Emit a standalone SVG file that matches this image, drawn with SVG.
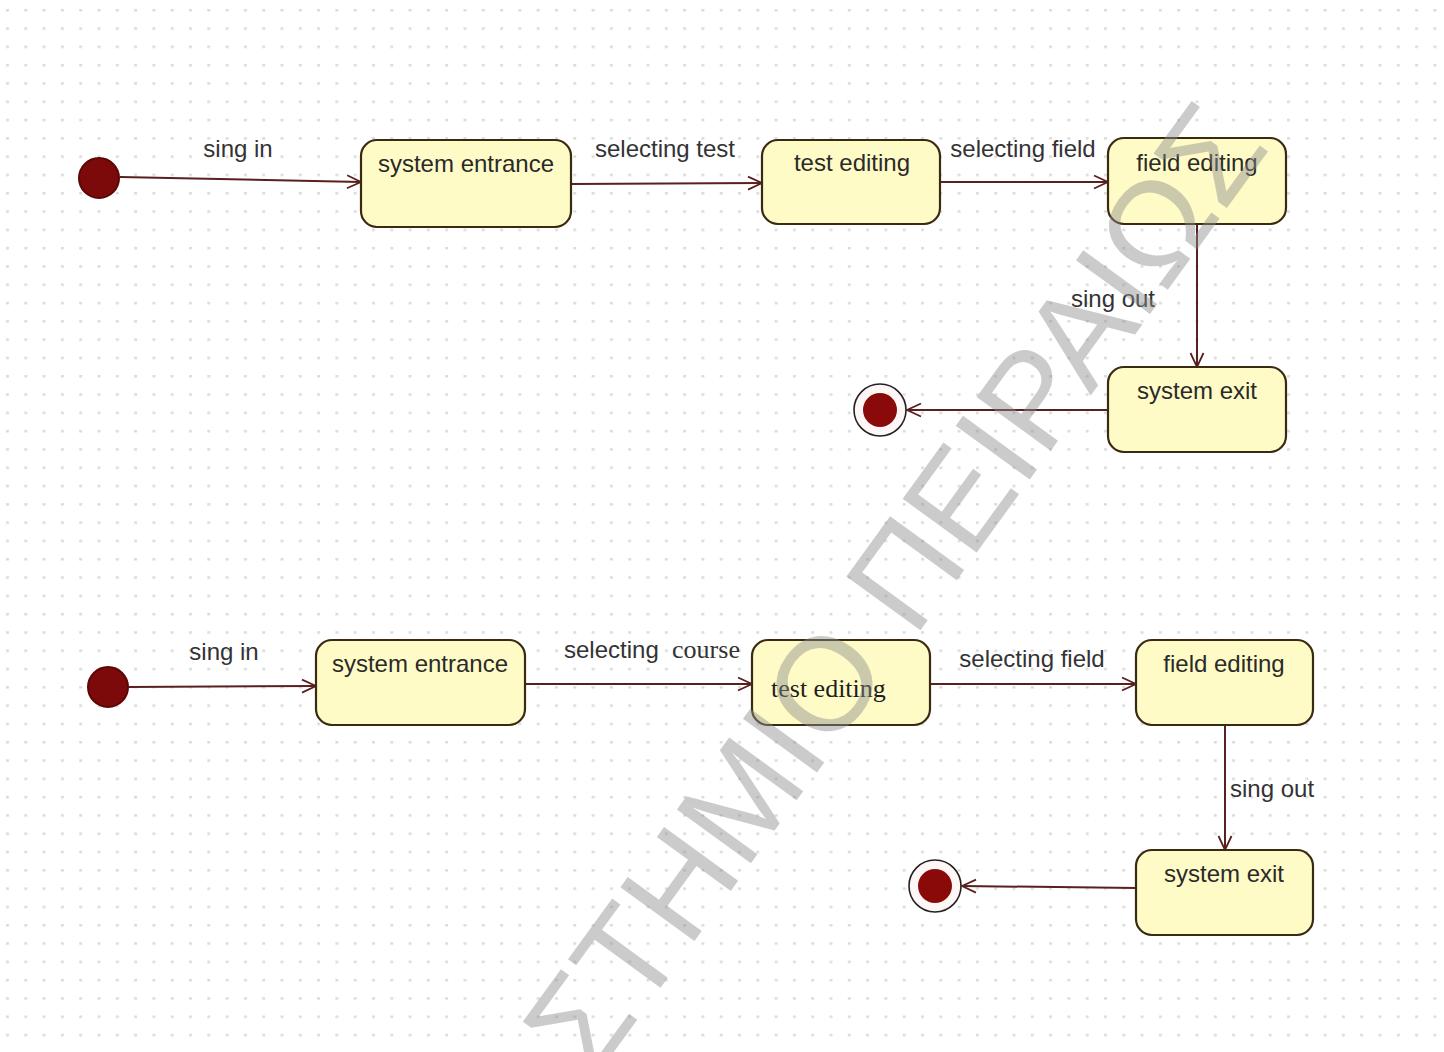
<svg xmlns="http://www.w3.org/2000/svg" width="1444" height="1052" viewBox="0 0 1444 1052">
  <defs>
    <pattern id="grid" x="6" y="9" width="18.3" height="18.3" patternUnits="userSpaceOnUse">
      <rect x="0" y="0" width="3" height="2.5" fill="#dcdcdc"/>
    </pattern>
    <marker id="open" viewBox="0 0 16 16" refX="15" refY="8" markerWidth="16" markerHeight="16" markerUnits="userSpaceOnUse" orient="auto">
      <path d="M1,1.5 L15,8 L1,14.5" fill="none" stroke="#5a1f1f" stroke-width="1.8"/>
    </marker>
    <style>
      .state { fill: #fffbc6; stroke: #3b2a12; stroke-width: 2.2; }
      .name { font-family: "Liberation Sans", Arial, sans-serif; font-size: 24px; fill: #2a2a2a; text-anchor: middle; }
      .name-left { font-family: "Liberation Serif", "Times New Roman", serif; font-size: 26px; fill: #1e1e1e; text-anchor: start; }
      .serif { font-family: "Liberation Serif", "Times New Roman", serif; font-size: 26px; }
      .lbl { font-family: "Liberation Sans", Arial, sans-serif; font-size: 24px; fill: #333333; }
      .edge { fill: none; stroke: #5a1f1f; stroke-width: 2; marker-end: url(#open); }
      .start { fill: #7d0a0a; stroke: #5c0606; stroke-width: 2; }
      .ring { fill: #fff6f6; stroke: #222222; stroke-width: 1.6; }
      .core { fill: #8a0a0a; }
      .mark { font-family: "Liberation Sans", Arial, sans-serif; font-size: 133px; fill: #8c8c8c; fill-opacity: 0.45; }
    </style>
  </defs>

  <!-- canvas -->
  <rect x="0" y="0" width="1444" height="1052" fill="#ffffff"/>
  <rect x="0" y="0" width="1444" height="1052" fill="url(#grid)"/>

  <!-- connectors -->
  <g id="connectors">
    <!-- upper chart -->
    <line class="edge" x1="120" y1="177" x2="361" y2="182"/>
    <line class="edge" x1="571" y1="184" x2="762" y2="183"/>
    <line class="edge" x1="940" y1="182" x2="1108" y2="182"/>
    <line class="edge" x1="1197" y1="224" x2="1197" y2="367"/>
    <line class="edge" x1="1108" y1="410" x2="907" y2="410"/>
    <!-- lower chart -->
    <line class="edge" x1="129" y1="687" x2="316" y2="686"/>
    <line class="edge" x1="525" y1="684" x2="752" y2="684"/>
    <line class="edge" x1="930" y1="684" x2="1136" y2="684"/>
    <line class="edge" x1="1225" y1="725" x2="1225" y2="850"/>
    <line class="edge" x1="1136" y1="888" x2="962" y2="886"/>

    <text class="lbl" x="238" y="157" text-anchor="middle">sing in</text>
    <text class="lbl" x="665" y="157" text-anchor="middle">selecting test</text>
    <text class="lbl" x="1023" y="157" text-anchor="middle">selecting field</text>
    <text class="lbl" x="1113" y="307" text-anchor="middle">sing out</text>

    <text class="lbl" x="224" y="660" text-anchor="middle">sing in</text>
    <text class="lbl" x="564" y="658" xml:space="preserve">selecting  <tspan class="serif">course</tspan></text>
    <text class="lbl" x="1032" y="667" text-anchor="middle">selecting field</text>
    <text class="lbl" x="1230" y="797">sing out</text>
  </g>

  <!-- upper chart states -->
  <g id="start1"><circle class="start" cx="99" cy="178" r="20"/></g>
  <g id="entrance1">
    <rect class="state" x="361" y="140" width="210" height="87" rx="16"/>
    <text class="name" x="466" y="172">system entrance</text>
  </g>
  <g id="testedit1">
    <rect class="state" x="762" y="140" width="178" height="84" rx="16"/>
    <text class="name" x="852" y="171">test editing</text>
  </g>
  <g id="fieldedit1">
    <rect class="state" x="1108" y="138" width="178" height="86" rx="16"/>
    <text class="name" x="1197" y="171">field editing</text>
  </g>
  <g id="exit1">
    <rect class="state" x="1108" y="367" width="178" height="85" rx="16"/>
    <text class="name" x="1197" y="399">system exit</text>
  </g>
  <g id="end1">
    <circle class="ring" cx="880" cy="410" r="26"/>
    <circle class="core" cx="880" cy="410" r="17"/>
  </g>

  <!-- lower chart states -->
  <g id="start2"><circle class="start" cx="108" cy="687" r="20"/></g>
  <g id="entrance2">
    <rect class="state" x="316" y="640" width="209" height="85" rx="16"/>
    <text class="name" x="420" y="672">system entrance</text>
  </g>
  <g id="testedit2">
    <rect class="state" x="752" y="640" width="178" height="85" rx="16"/>
    <text class="name-left" x="771" y="697">test editing</text>
  </g>
  <g id="fieldedit2">
    <rect class="state" x="1136" y="640" width="177" height="85" rx="16"/>
    <text class="name" x="1224" y="672">field editing</text>
  </g>
  <g id="exit2">
    <rect class="state" x="1136" y="850" width="177" height="85" rx="16"/>
    <text class="name" x="1224" y="882">system exit</text>
  </g>
  <g id="end2">
    <circle class="ring" cx="935" cy="886" r="26"/>
    <circle class="core" cx="935" cy="886" r="17"/>
  </g>

  <!-- diagonal stamp across the sheet -->
  <g id="stamp">
    <text class="mark" transform="translate(592,1082) rotate(-54)">ΣΤΗΜΙΟ ΠΕΙΡΑΙΩΣ</text>
  </g>
</svg>
